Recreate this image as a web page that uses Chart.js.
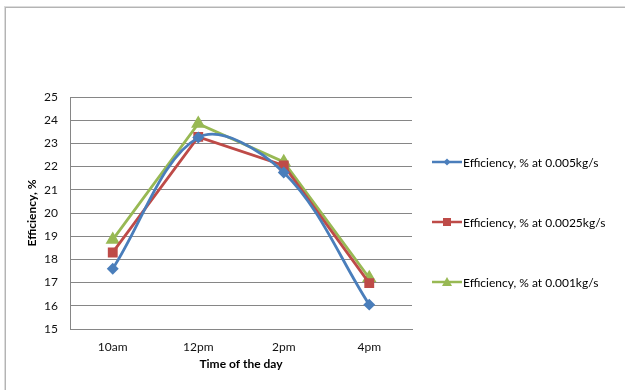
<!DOCTYPE html>
<html>
<head>
<meta charset="utf-8">
<script src="https://cdn.jsdelivr.net/npm/chart.js@4/dist/chart.umd.min.js"></script>
<style>
  body { margin: 0; background: #fff; }
  #wrap { position: relative; width: 625px; height: 390px; overflow: hidden; }
  #frame { position: absolute; left: 5px; top: 7px; width: 700px; height: 500px; border: 1px solid #b4b4b4; box-shadow: 0 0 0 1px #dcdcdc; }
  canvas { position: absolute; left: 0; top: 0; }
</style>
</head>
<body>
<div id="wrap">
  <div id="frame"></div>
  <canvas id="chart" width="625" height="390"></canvas>
</div>
<script>
const times = ["10am", "12pm", "2pm", "4pm"];
const eff005 = [17.6, 23.25, 21.75, 16.05];
const eff0025 = [18.3, 23.28, 22.05, 16.98];
const eff001 = [18.85, 23.85, 22.2, 17.2];
const seriesNames = ["Efficiency, % at 0.005kg/s", "Efficiency, % at 0.0025kg/s", "Efficiency, % at 0.001kg/s"];
const yTicks = [15, 16, 17, 18, 19, 20, 21, 22, 23, 24, 25];

const fontFam = "Lato, 'Open Sans', sans-serif";

// little line + marker pictures for the legend
function legendIcon(color, style, r) {
    const c = document.createElement("canvas");
    c.width = 32; c.height = 12;
    const g = c.getContext("2d");
    g.strokeStyle = color; g.fillStyle = color; g.lineWidth = 2.5;
    g.beginPath(); g.moveTo(1, 6); g.lineTo(31, 6); g.stroke();
    g.beginPath();
    if (style === "rectRot") {
        g.moveTo(16, 6 - r); g.lineTo(16 + r, 6); g.lineTo(16, 6 + r); g.lineTo(16 - r, 6);
    } else if (style === "rect") {
        g.rect(16 - r, 6 - r, 2 * r, 2 * r);
    } else {
        g.moveTo(16, 6 - r); g.lineTo(16 + r, 6 + r * 0.8); g.lineTo(16 - r, 6 + r * 0.8);
    }
    g.closePath(); g.fill();
    return c;
}

const sideLegend = {
    id: "sideLegend",
    afterDraw(chart) {
        const ctx = chart.ctx;
        const rows = [162, 222, 282];
        ctx.save();
        ctx.font = "12px " + fontFam;
        ctx.fillStyle = "#000";
        ctx.textBaseline = "middle";
        chart.data.datasets.forEach((ds, i) => {
            ctx.drawImage(ds.icon, 431, rows[i] - 6);
            ctx.fillText(ds.label, 463, rows[i] + 1);
        });
        ctx.restore();
    }
};

new Chart(document.getElementById("chart"), {
    type: "line",
    data: {
        labels: times,
        datasets: [
            { label: seriesNames[0], data: eff005, borderColor: "#4a7ebb", backgroundColor: "#4a7ebb",
              pointStyle: "rectRot", pointRadius: 4, tension: 0.35, icon: legendIcon("#4a7ebb", "rectRot", 3.5) },
            { label: seriesNames[1], data: eff0025, borderColor: "#be4b48", backgroundColor: "#be4b48",
              pointStyle: "rect", pointRadius: 5, tension: 0, icon: legendIcon("#be4b48", "rect", 4) },
            { label: seriesNames[2], data: eff001, borderColor: "#98b954", backgroundColor: "#98b954",
              pointStyle: "triangle", pointRadius: 5.5, tension: 0, icon: legendIcon("#98b954", "triangle", 5) }
        ].map(d => Object.assign(d, { borderWidth: 2.8, pointHoverRadius: d.pointRadius, fill: false }))
    },
    options: {
        responsive: false,
        animation: false,
        layout: { padding: { left: 22, top: 97, right: 213, bottom: 15 } },
        plugins: { legend: { display: false }, tooltip: { enabled: false } },
        scales: {
            x: {
                offset: true,
                grid: { display: false, drawTicks: false },
                border: { color: "#868686", width: 1 },
                ticks: { color: "#111", font: { family: fontFam, size: 12 }, padding: 11 },
                title: { display: true, text: "Time of the day", color: "#000",
                         font: { family: fontFam, size: 12, weight: "bold" }, padding: { top: 3 } },
                afterFit(scale) { scale.height = 46; }
            },
            y: {
                min: 15, max: 25,
                afterBuildTicks(scale) { scale.ticks = yTicks.map(v => ({ value: v })); },
                grid: { color: "#868686", lineWidth: 1, drawTicks: false },
                border: { color: "#868686", width: 1 },
                ticks: { color: "#111", font: { family: fontFam, size: 12 }, padding: 12 },
                title: { display: true, text: "Efficiency, %", color: "#000",
                         font: { family: fontFam, size: 12, weight: "bold" }, padding: 3 },
                afterFit(scale) { scale.width = 48; }
            }
        }
    },
    plugins: [sideLegend]
});
</script>
</body>
</html>
